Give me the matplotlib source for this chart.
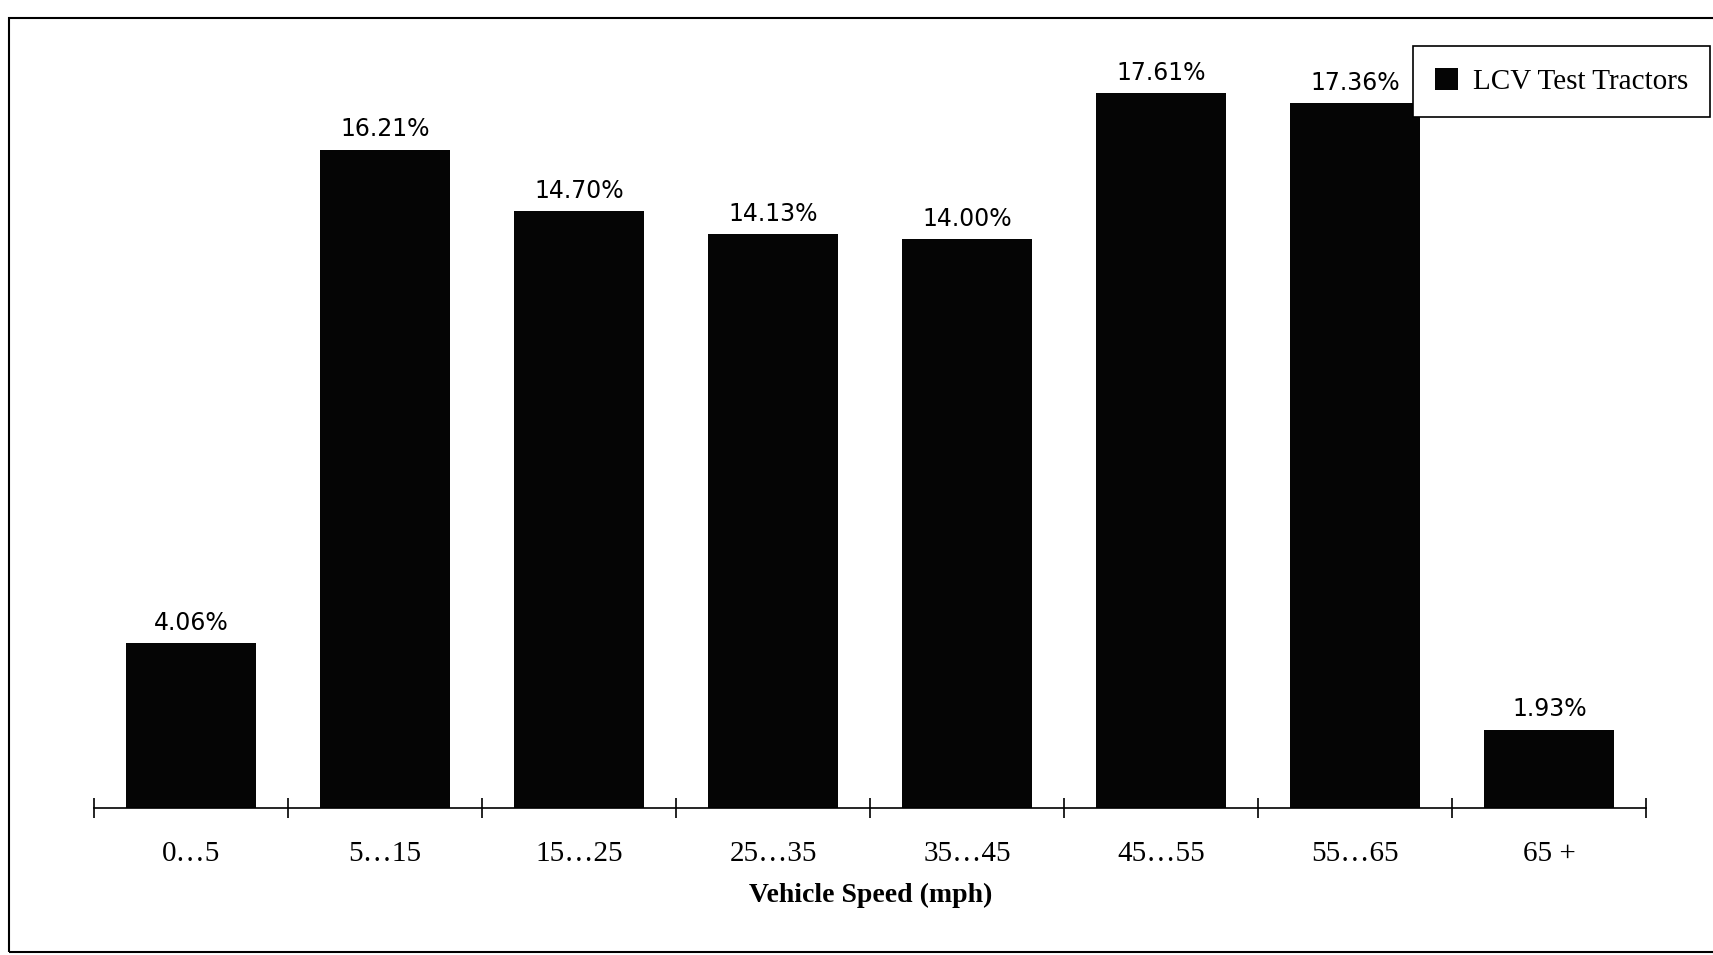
import numpy as np
import matplotlib.pyplot as plt
from matplotlib.patches import Rectangle

speed_bins = ["0\u20265", "5\u202615", "15\u202625", "25\u202635", "35\u202645", "45\u202655", "55\u202665", "65 +"]
share_pct = [4.06, 16.21, 14.70, 14.13, 14.00, 17.61, 17.36, 1.93]
series_name = "LCV Test Tractors"

serif = ["Liberation Serif", "DejaVu Serif"]

fig = plt.figure(figsize=(17.13, 9.55), dpi=100)
ax = fig.add_axes([0.0549, 0.154, 0.9062, 0.827])

x = np.arange(len(speed_bins))
bars = ax.bar(x, share_pct, width=0.67, color="#050505", label=series_name)

for xi, v in zip(x, share_pct):
    ax.annotate(f"{v:.2f}%", (xi, v), xytext=(0, 6), textcoords="offset points",
                ha="center", va="bottom", fontsize=17, family="DejaVu Sans")

ax.set_xlim(-0.5, len(speed_bins) - 0.5)
ax.set_ylim(0, 19.45)

# category boundaries get the tick marks, centres get the labels
ax.set_xticks(np.arange(-0.5, len(speed_bins)), minor=False)
ax.set_xticklabels([])
ax.set_xticks(x, minor=True)
ax.set_xticklabels(speed_bins, minor=True, fontsize=21, family=serif)
ax.tick_params(axis="x", which="major", direction="inout", length=15, width=1.2)
ax.tick_params(axis="x", which="minor", length=0, pad=24)
ax.set_yticks([])

for side in ["left", "right", "top"]:
    ax.spines[side].set_visible(False)
ax.spines["bottom"].set_linewidth(1.2)

ax.set_xlabel("Vehicle Speed (mph)", fontsize=20, family=serif, fontweight="bold", labelpad=11)

# outer frame of the scanned page
fig.patches.append(Rectangle((9 / 1713, 3 / 955), 1.05, 1 - 18 / 955 - 3 / 955,
                             transform=fig.transFigure, fill=False, edgecolor="black",
                             linewidth=1.5, clip_on=False))

leg = fig.legend(handles=[bars], loc="upper left", bbox_to_anchor=(1413 / 1713, 1 - 46 / 955),
                 frameon=True, fancybox=False, edgecolor="black", framealpha=1,
                 prop={"family": serif, "size": 21}, handlelength=0.8, handleheight=0.8,
                 handletextpad=0.5, borderpad=0.75, borderaxespad=0)
leg.get_frame().set_linewidth(1.2)

fig.savefig("out.png", dpi=100)
